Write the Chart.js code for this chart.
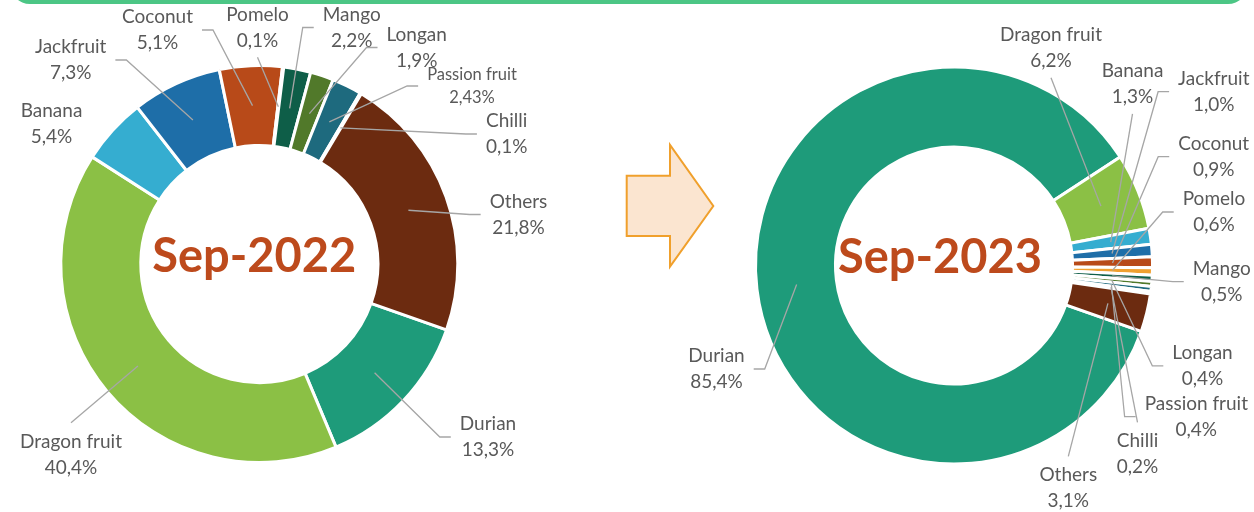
<!DOCTYPE html>
<html>
<head>
<meta charset="utf-8">
<script src="https://cdn.jsdelivr.net/npm/chart.js@4.4.1/dist/chart.umd.min.js"></script>
<style>
  body { margin: 0; background: #fff; }
  #wrap { position: relative; width: 1254px; height: 512px; overflow: hidden; }
  #wrap canvas, #arrow { position: absolute; left: 0; top: 0; }
  #frame { position: absolute; left: 10px; top: -20px; width: 1238px; height: 24px;
           background: #4cc685; border-radius: 0 0 20px 20px; }
</style>
</head>
<body>
<div id="wrap">
  <div id="frame"></div>
  <svg id="arrow" width="1254" height="512">
    <polygon points="626.7,175.7 670,175.7 670,145 713.3,206 670,266.7 670,236 626.7,236"
             fill="#fbe5d0" stroke="#f0a02c" stroke-width="2"/>
  </svg>
  <canvas id="c2022" width="1254" height="512"></canvas>
  <canvas id="c2023" width="1254" height="512"></canvas>
</div>
<script>
const fruits = ['Durian', 'Dragon fruit', 'Banana', 'Jackfruit', 'Coconut', 'Pomelo',
                'Mango', 'Longan', 'Passion fruit', 'Chilli', 'Others'];
const share2022 = [13.3, 40.4, 5.4, 7.3, 5.1, 0.1, 2.2, 1.9, 2.43, 0.1, 21.8];
const share2023 = [85.4, 6.2, 1.3, 1.0, 0.9, 0.6, 0.5, 0.4, 0.4, 0.2, 3.1];
const periods = ['Sep-2022', 'Sep-2023'];

const fruitColors = ['#1e9b7a', '#8bc045', '#35add0', '#1e6ea8', '#b84a19', '#f0a030',
                     '#0e5e48', '#51792a', '#1e6a7e', '#7fb8c8', '#6c2b10'];

// where each label block sits: centre x, centre y, side of the slice it hangs on, font px
const spots2022 = [
  [488, 437, 'R'], [71, 454.5, 'B'], [51.5, 124, ''], [70.7, 60, 'L'], [157.5, 30, 'L'],
  [257.5, 27.5, 'T'], [351.7, 27.5, 'R'], [416.7, 47.5, 'R'], [472, 86, 'R', 16.5],
  [506.7, 134, 'R'], [518.5, 214.5, 'R']
];
const spots2023 = [
  [716.5, 369, 'L'], [1051, 48, 'T'], [1132.5, 84, 'T'], [1213.8, 91.7, 'R'], [1213.7, 156.7, 'R'],
  [1214, 212, 'R'], [1221.7, 281.7, 'R'], [1202.5, 365.8, 'R'], [1196.3, 416.7, 'R'],
  [1137.5, 454.2, 'B'], [1068.3, 488.3, 'B']
];

function pct(v) {
  const oneDec = Math.abs(v * 10 - Math.round(v * 10)) < 1e-6;
  return v.toFixed(oneDec ? 1 : 2).replace('.', ',') + '%';
}

const callouts = {
  id: 'callouts',
  afterDatasetsDraw(chart, args, opts) {
    const ctx = chart.ctx;
    const arcs = chart.getDatasetMeta(0).data;
    const values = chart.data.datasets[0].data;
    ctx.save();
    arcs.forEach((arc, i) => {
      const [cx, cy, side, fs] = opts.spots[i];
      const size = fs || 19;
      const lh = size * 1.37;
      const p = arc.getProps(['x', 'y', 'startAngle', 'endAngle', 'innerRadius', 'outerRadius'], true);
      const a = (p.startAngle + p.endAngle) / 2;
      const r = (p.innerRadius + p.outerRadius) / 2;
      const ax = p.x + Math.cos(a) * r, ay = p.y + Math.sin(a) * r;
      const lines = [chart.data.labels[i], pct(values[i])];
      ctx.font = size + 'px Lato';
      const w = Math.max(...lines.map(t => ctx.measureText(t).width));
      const half = lh / 2 + size * 0.36;

      ctx.strokeStyle = '#a6a6a6';
      ctx.lineWidth = 1.3;
      ctx.beginPath();
      if (side === 'R') {
        const left = cx - w / 2;
        ctx.moveTo(ax, ay); ctx.lineTo(left - 20, cy); ctx.lineTo(left - 9, cy);
      } else if (side === 'L') {
        const right = cx + w / 2;
        ctx.moveTo(ax, ay); ctx.lineTo(right + 20, cy); ctx.lineTo(right + 9, cy);
      } else if (side === 'T') {
        ctx.moveTo(ax, ay); ctx.lineTo(cx, cy + half + 10);
      } else if (side === 'B') {
        ctx.moveTo(ax, ay); ctx.lineTo(cx, cy - half - 12);
      }
      ctx.stroke();

      ctx.fillStyle = '#595959';
      ctx.textAlign = 'center';
      ctx.textBaseline = 'middle';
      ctx.fillText(lines[0], cx, cy - lh / 2);
      ctx.fillText(lines[1], cx, cy + lh / 2);
    });

    // period name in the hole
    const c = arcs[0].getProps(['x', 'y'], true);
    ctx.font = 'bold 47px Lato';
    ctx.fillStyle = '#bd4a1c';
    ctx.textAlign = 'center';
    ctx.textBaseline = 'alphabetic';
    ctx.fillText(opts.title, c.x + opts.shift[0], c.y + opts.shift[1]);
    ctx.restore();
  }
};

function donut(id, values, spots, title, shift, padding) {
  return new Chart(document.getElementById(id), {
    type: 'doughnut',
    data: {
      labels: fruits,
      datasets: [{
        data: values,
        backgroundColor: fruitColors,
        borderColor: '#ffffff',
        borderWidth: 3
      }]
    },
    options: {
      responsive: false,
      animation: false,
      events: [],
      devicePixelRatio: 1,
      rotation: 109.4,
      radius: 198.5,
      cutout: '59.7%',
      layout: { padding: padding },
      plugins: {
        legend: { display: false },
        tooltip: { enabled: false },
        callouts: { spots: spots, title: title, shift: shift }
      }
    },
    plugins: [callouts]
  });
}

donut('c2022', share2022, spots2022, periods[0], [-5, 8], { left: 0, right: 735.4, top: 16, bottom: 0 });
donut('c2023', share2023, spots2023, periods[1], [-14, 7.5], { left: 654, right: 0, top: 19, bottom: 0 });
</script>
</body>
</html>
